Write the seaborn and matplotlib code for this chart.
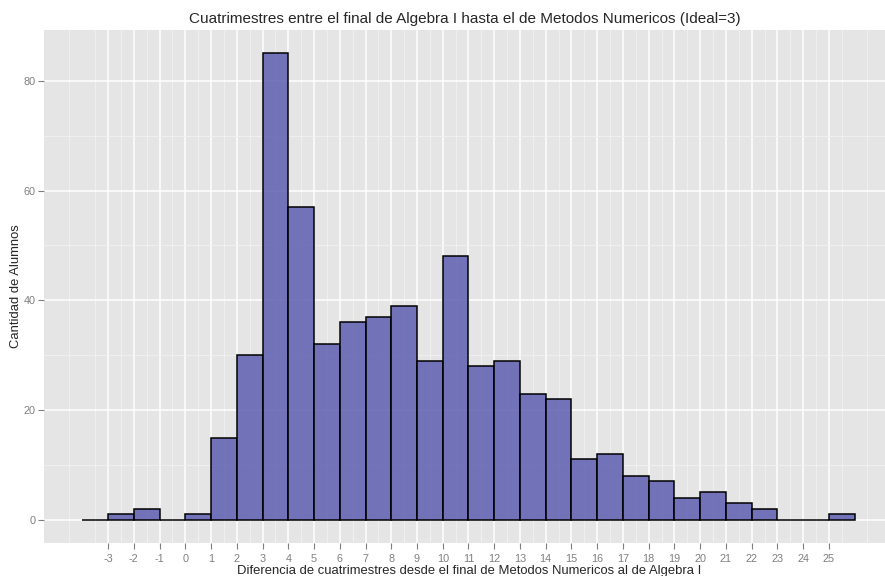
import numpy as np
import pandas as pd
import matplotlib
matplotlib.use("Agg")
import matplotlib.pyplot as plt
import seaborn as sns

# cuatrimestres de diferencia (borde izquierdo de cada bin) y cantidad de alumnos
bin_left = [-4, -3, -2, -1, 0, 1, 2, 3, 4, 5, 6, 7, 8, 9, 10, 11, 12, 13, 14,
            15, 16, 17, 18, 19, 20, 21, 22, 23, 24, 25]
alumnos = [0, 1, 2, 0, 1, 15, 30, 85, 57, 32, 36, 37, 39, 29, 48, 28, 29, 23, 22,
           11, 12, 8, 7, 4, 5, 3, 2, 0, 0, 1]
x_ticks = list(range(-3, 26))
y_ticks = [0, 20, 40, 60, 80]

df = pd.DataFrame({"diferencia": np.array(bin_left) + 0.5, "alumnos": alumnos})

sns.set_style("whitegrid")
plt.rcParams['font.family'] = ['Liberation Sans', 'DejaVu Sans']

fig = plt.figure(figsize=(8.85, 5.76), dpi=100)
ax = fig.add_axes([0.0497, 0.057, 0.9503, 0.891])

sns.histplot(data=df, x="diferencia", weights="alumnos", binwidth=1, binrange=(-4, 26),
             ax=ax, color="#5e5eb2", alpha=0.85, edgecolor="black", linewidth=1.1)

ax.set_facecolor("#e5e5e5")
for s in ax.spines.values():
    s.set_visible(False)
ax.set_xlim(-5.49, 27.18)
ax.set_ylim(-4.25, 89.25)
ax.set_xticks(x_ticks)
ax.set_xticklabels([str(t) for t in x_ticks])
ax.set_yticks(y_ticks)
ax.set_xticks(np.arange(-4.5, 27, 1), minor=True)
ax.set_yticks(np.arange(10, 90, 20), minor=True)
ax.grid(which="major", color="white", linewidth=1.1)
ax.grid(which="minor", color="#f2f2f2", linewidth=0.6)
ax.set_axisbelow(True)
ax.tick_params(axis="both", which="major", labelsize=7.8, labelcolor="#7f7f7f",
               color="#7f7f7f", length=4, width=0.8, direction="out",
               bottom=True, left=True)
ax.tick_params(axis="y", pad=2)
ax.tick_params(which="minor", length=0)

ax.set_title("Cuatrimestres entre el final de Algebra I hasta el de Metodos Numericos (Ideal=3)",
             fontsize=11, pad=5)
ax.set_xlabel("Diferencia de cuatrimestres desde el final de Metodos Numericos al de Algebra I",
              fontsize=9.4)
ax.set_ylabel("Cantidad de Alumnos", fontsize=9.4)
ax.xaxis.set_label_coords(0.506, -0.043)
ax.yaxis.set_label_coords(-0.0335, 0.5)
ax.xaxis.label.set_va("top")
ax.yaxis.label.set_va("center")

plt.savefig("out.png", dpi=100)
